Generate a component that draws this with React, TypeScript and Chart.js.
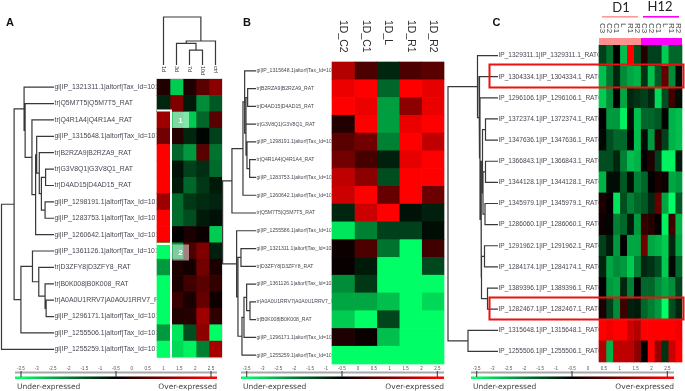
import React, { useEffect, useRef } from "react";
import { Chart, registerables } from "chart.js";

Chart.register(...registerables);

type Tree = number | [number, Tree, Tree];

const keyTicks = [-3.5, -3, -2.5, -2, -1.5, -1, -0.5, 0, 0.5, 1, 1.5, 2, 2.5];

const id = (n: string) => `gi|IP_${n}.1|altorf|Tax_Id=10116`;
const tr = (n: string) => `tr|${n}|${n}_RAT`;
const ip = (n: string) => `IP_${n}.1|IP_${n}.1_RATO`;

const colsA = ["1d", "3d", "7d", "10d", "ctrl"];
const rowsA = [
  id("1321311"), tr("Q5M7T5"), tr("Q4R1A4"), id("1315648"), tr("B2RZA9"), tr("G3V8Q1"),
  tr("D4AD15"), id("1298191"), id("1283753"), id("1260642"), id("1361126"), tr("D3ZFY8"),
  tr("B0K008"), tr("A0A0U1RRV7"), id("1296171"), id("1255506"), id("1255259"),
];
// Expression on the colour key, scaled to -1 (full green) .. 1 (full red)
const valuesA = [
  [0.13, -0.8, 0.12, 0.35, 0.55],
  [-0.15, 0.5, -0.1, -0.55, -0.35],
  [0.62, -0.7, -0.8, -0.4, 0.35],
  [0.45, 0.15, -0.15, -0.02, -0.25],
  [1, -0.4, -0.6, 0.35, -0.45],
  [1, -0.07, -0.25, -0.18, -0.42],
  [1, -0.1, -0.4, -0.22, -0.1],
  [0.62, -0.42, -0.22, -0.17, -0.14],
  [1, -0.42, -0.3, -0.1, -0.07],
  [1, 0, 0.1, 0.04, -0.8],
  [-1, -0.6, 0.3, 0.5, -0.12],
  [-0.6, 0.12, 0.07, 0.45, 0.1],
  [-1, 0.1, 0.25, 0.35, 0.2],
  [-1, 0.22, 0.1, 0.4, 0.06],
  [-1, 0.13, 0.15, 0.62, 0.18],
  [-0.6, -0.9, -0.3, 0.55, -1],
  [-1, -0.85, -0.95, -0.5, 0.65],
];
const treeA: Tree = [1,
  [0.76,
    [0.57, 0, [0.55, 1, [0.42, 2, [0.35, [0.33, 3, [0.28, 4, [0.24, [0.16, 5, 6], [0.17, 7, 8]]]], 9]]]],
    [0.63, [0.41, 10, [0.29, 11, [0.17, 12, [0.15, 13, 14]]]], 15]],
  16];
const colTreeA: Tree = [1, 0, [0.5, [0.45, 1, [0.31, 2, 3]], 4]];

const colsB = ["1D_C2", "1D_C1", "1D_L", "1D_R1", "1D_R2"];
const rowsB = [
  id("1315648"), tr("B2RZA9"), tr("D4AD15"), tr("G3V8Q1"), id("1298191"), tr("Q4R1A4"),
  id("1283753"), id("1260642"), tr("Q5M7T5"), id("1255586"), id("1321311"), tr("D3ZFY8"),
  id("1361126"), tr("A0A0U1RRV7"), tr("B0K008"), id("1296171"), id("1255259"),
];
const valuesB = [
  [0.7, 0.3, -0.15, 0.3, 0.35],
  [0.93, 1, -0.4, 1, 0.9],
  [1, 0.93, -0.62, 0.55, 0.92],
  [0.13, 1, -0.62, 0.92, 1],
  [0.35, 0.45, -0.5, 1, 0.75],
  [0.45, 0.28, -0.12, 0.9, 1],
  [0.75, 0.55, -0.3, 1, 1],
  [0.8, 1, 0.4, 1, 0.42],
  [-0.15, 0.8, 1, -0.07, -0.12],
  [-0.9, -0.5, -0.25, -0.25, -0.05],
  [0.05, 0.3, -0.45, -1, 0.25],
  [0.03, -0.1, -1, -1, -0.28],
  [-0.55, -0.22, -1, -1, -1],
  [-0.65, -0.65, -0.75, -1, -0.85],
  [-0.8, -1, -0.27, -1, -1],
  [0.12, 0.04, -0.75, -1, -1],
  [-1, -1, -1, -1, -1],
];
const treeB: Tree = [1,
  [0.72,
    [0.39, [0.34, 0, [0.3, [0.3, [0.25, 1, 2], 3], [0.27, 4, [0.19, 5, 6]]]], 7],
    8],
  [0.58, 9,
    [0.54, [0.45, 10, 11],
      [0.42, [0.36, [0.28, 12, [0.18, 13, 14]], 15], 16]]]];

const colsC = ["C3", "C2", "C1", "L", "R1", "R2", "C3", "C2", "C1", "L", "R1", "R2"];
const rowsC = [
  "1329311", "1304334", "1296106", "1372374", "1347636", "1366843", "1344128", "1345979",
  "1286060", "1291962", "1284174", "1389396", "1282467", "1315648", "1255506",
].map(ip);
const valuesC = [
  [-0.25, -0.45, 0, -0.75, 1, -0.3, 0.15, -0.25, -0.25, -0.8, -0.4, -0.4],
  [-0.75, -0.45, -0.15, -0.55, -0.65, -0.7, -0.2, -0.75, -0.35, 0.4, -0.55, -0.05],
  [-0.8, -0.55, 0, -0.65, -0.15, -0.2, -0.25, -0.15, -0.85, -0.3, 0.25, -0.05],
  [0, -0.6, -0.6, -0.95, -0.05, -0.75, -0.4, -0.4, -0.35, -0.02, -0.7, -0.75],
  [-0.03, -0.3, -0.4, -0.4, 0, -0.75, -0.05, -0.6, 0.15, -0.25, -0.7, -0.75],
  [-0.3, -0.3, -0.15, -0.5, -0.75, -0.7, 0, 0.12, -0.25, -0.95, -0.95, -0.1],
  [-0.7, -0.05, -0.05, -0.35, -0.05, -0.5, -0.4, 0, 0.1, 0.05, -0.65, -0.6],
  [0.1, 0.02, -0.9, -0.3, -0.5, -0.4, -0.35, -0.15, 0.4, -0.65, -1, -0.35],
  [0.05, -0.02, -0.5, -0.4, -0.1, -0.6, 0.2, 0.15, 0.02, -0.95, 0.25, -0.7],
  [-0.25, -0.1, -0.6, 0, -0.65, -0.65, 0.45, -0.65, -0.7, -0.8, -0.15, -0.65],
  [-0.15, -0.65, -0.55, -0.6, -0.8, -0.5, -0.15, -0.2, -0.3, -0.8, -0.03, -0.4],
  [0, -0.6, -0.65, -0.15, -0.5, 0, -0.4, -0.4, -0.55, -0.65, -0.55, -0.25],
  [0.1, -0.25, -0.55, 0.25, -0.12, -0.1, -0.4, -0.5, -0.6, -1, -0.3, -0.15],
  [1, 0.95, 1, 1, 0.8, 0.7, 1, 1, 1, 1, 1, 0.95],
  [0.7, -0.7, 0.75, 0.75, 0.75, 0.55, 0, 1, 0.6, -0.2, 0.8, 1],
];
const treeC: Tree = [1,
  [0.41, 0, [0.38, 1, [0.36, 2, [0.34,
    [0.31, [0.25, 3, 4], [0.3, [0.25, 5, 6], [0.26, 7, 8]]],
    [0.33, [0.27, 9, 10], [0.21, 11, 12]]]]]],
  [0.6, 13, 14]];

const colour = (v: number) =>
  v >= 0
    ? `rgb(${Math.round(255 * v)},0,0)`
    : `rgb(0,${Math.round(-255 * v)},${Math.round(-102 * v)})`;

const ink = "#4b4552";
const treeInk = "#383838";

function treeSegments(tree: Tree, place: (h: number, pos: number) => { x: number; y: number }) {
  const out: { x: number; y: number }[] = [];
  const walk = (n: Tree): { h: number; pos: number } => {
    if (typeof n === "number") return { h: 0, pos: n };
    const a = walk(n[1]);
    const b = walk(n[2]);
    out.push(place(a.h, a.pos), place(n[0], a.pos), place(n[0], b.pos), place(b.h, b.pos), { x: NaN, y: NaN });
    return { h: n[0], pos: (a.pos + b.pos) / 2 };
  };
  walk(tree);
  return out;
}

interface Panel {
  left: number; width: number;
  heatLeft: number; heatRight: number; heatTop: number; heatBottom: number;
  rootX: number; leafX: number; labelX: number; labelFont: string;
  keyLeft: number; keyRight: number; tickA: number; tickZ: number;
  letter: string; letterX: number;
  rows: string[]; cols: string[]; values: number[][]; tree: Tree;
  colTree?: Tree; colTreeTop?: number; colTreeBottom?: number;
  decorate?: (c: CanvasRenderingContext2D, chart: any) => void;
  colText: (c: CanvasRenderingContext2D, label: string, x: number) => void;
}

const rotated = (c: CanvasRenderingContext2D, text: string, x: number, y: number, font: string, col: string) => {
  c.save();
  c.translate(x, y);
  c.rotate(Math.PI / 2);
  c.font = font;
  c.fillStyle = col;
  c.textAlign = "left";
  c.textBaseline = "middle";
  c.fillText(text, 0, 0);
  c.restore();
};

const panels: Panel[] = [
  {
    left: 0, width: 226, heatLeft: 157, heatRight: 222, heatTop: 79, heatBottom: 357.5,
    rootX: 1.5, leafX: 54, labelX: 54, labelFont: "6.9px 'Liberation Sans'",
    keyLeft: 15, keyRight: 217, tickA: 21, tickZ: 211,
    letter: "A", letterX: 6, rows: rowsA, cols: colsA, values: valuesA, tree: treeA,
    colTree: colTreeA, colTreeTop: 17, colTreeBottom: 65,
    colText: (c, l, x) => rotated(c, l, x, 66, "5.5px 'Liberation Sans'", "#333"),
    decorate: (c) => {
      c.strokeStyle = "#fff";
      c.lineWidth = 2;
      c.beginPath();
      c.moveTo(157, 110.5); c.lineTo(171, 110.5); c.lineTo(171, 358);
      c.moveTo(157, 244); c.lineTo(171, 244);
      c.stroke();
      c.fillStyle = "rgba(255,255,255,0.5)";
      c.fillRect(172.5, 112, 16.5, 16);
      c.fillRect(172.5, 244.5, 16.5, 16);
      c.fillStyle = "#fff";
      c.font = "bold 8px 'Liberation Sans'";
      c.textAlign = "center";
      c.textBaseline = "middle";
      c.fillText("1", 180.5, 120.5);
      c.fillText("2", 180.5, 252.5);
      c.strokeStyle = "#e2e2e2";
      c.lineWidth = 1;
      c.beginPath();
      c.moveTo(171.5, 358); c.lineTo(222.5, 358); c.lineTo(222.5, 78.5); c.lineTo(157, 78.5);
      c.stroke();
    },
  },
  {
    left: 222, width: 225, heatLeft: 332, heatRight: 444, heatTop: 62, heatBottom: 364,
    rootX: 222.6, leafX: 256, labelX: 256, labelFont: "5.15px 'Liberation Sans'",
    keyLeft: 241, keyRight: 444, tickA: 246.7, tickZ: 437.3,
    letter: "B", letterX: 243, rows: rowsB, cols: colsB, values: valuesB, tree: treeB,
    colText: (c, l, x) => rotated(c, l, x, 20, "10.5px 'Liberation Sans'", "#2c2c2c"),
  },
  {
    left: 447, width: 238, heatLeft: 599, heatRight: 682, heatTop: 45, heatBottom: 362,
    rootX: 448, leafX: 498, labelX: 498, labelFont: "6.55px 'Liberation Sans'",
    keyLeft: 471, keyRight: 674, tickA: 476.7, tickZ: 667.3,
    letter: "C", letterX: 492.5, rows: rowsC, cols: colsC, values: valuesC, tree: treeC,
    colText: (c, l, x) => rotated(c, l, x, 23, "8px 'Liberation Sans'", "#444"),
    decorate: (c) => {
      c.strokeStyle = "#ee1111";
      c.lineWidth = 2;
      c.strokeRect(489.5, 64.5, 194, 23);
      c.strokeRect(489.5, 297.5, 194, 22);
      c.fillStyle = "#ff9090";
      c.fillRect(599, 38, 42, 7);
      c.fillStyle = "#ff00ff";
      c.fillRect(641, 38, 41, 7);
      c.fillStyle = "#ff9999";
      c.fillRect(602, 16, 36, 1.6);
      c.fillStyle = "#ff00ff";
      c.fillRect(643, 16, 36, 1.6);
      c.fillStyle = "#222";
      c.font = "13px Lato";
      c.textAlign = "center";
      c.textBaseline = "middle";
      c.fillText("D1", 621, 8);
      c.fillText("H12", 660, 7);
    },
  },
];

function ChartPanel({ p }: { p: Panel }) {
  const ref = useRef<HTMLCanvasElement>(null);
  useEffect(() => {
    const H = 391;
    const colW = (p.heatRight - p.heatLeft) / p.cols.length;
    const rowH = (p.heatBottom - p.heatTop) / p.rows.length;
    const ux = (px: number) => (px - p.heatLeft) / colW;
    const uy = (py: number) => (py - p.heatTop) / rowH - 0.5;

    const bars = p.cols.map((name, c) => ({
      type: "bar" as const,
      label: name,
      indexAxis: "y" as const,
      grouped: false,
      barPercentage: 1,
      categoryPercentage: 1,
      xAxisID: "x",
      yAxisID: "y",
      data: p.rows.map((_, r) => ({ x: [c, c + 1], y: r })),
      backgroundColor: p.values.map((row) => colour(row[c])),
      borderWidth: 0,
    }));
    const line = (data: { x: number; y: number }[]) => ({
      type: "scatter" as const,
      label: "tree",
      showLine: true,
      spanGaps: false,
      pointRadius: 0,
      borderColor: treeInk,
      borderWidth: 1.2,
      xAxisID: "x",
      yAxisID: "y",
      data,
    });
    const datasets: any[] = [
      ...bars,
      line(treeSegments(p.tree, (h, pos) => ({ x: ux(p.leafX - h * (p.leafX - p.rootX)), y: pos }))),
    ];
    if (p.colTree) {
      const top = p.colTreeTop!;
      const bottom = p.colTreeBottom!;
      datasets.push(
        line(treeSegments(p.colTree, (h, pos) => ({ x: pos + 0.5, y: uy(bottom - h * (bottom - top)) })))
      );
    }

    const drawing = {
      id: "panelText",
      beforeDatasetsDraw(chart: any) {
        const c: CanvasRenderingContext2D = chart.ctx;
        const ys = chart.scales.y;
        c.save();
        c.translate(-p.left, 0);
        c.beginPath();
        c.rect(p.left, 0, p.heatLeft - p.left - 0.5, H);
        c.clip();
        c.font = p.labelFont;
        c.fillStyle = ink;
        c.textAlign = "left";
        c.textBaseline = "middle";
        p.rows.forEach((t, i) => c.fillText(t, p.labelX + 0.5, ys.getPixelForValue(i)));
        c.restore();
      },
      afterDatasetsDraw(chart: any) {
        const c: CanvasRenderingContext2D = chart.ctx;
        const xs = chart.scales.x;
        c.save();
        c.translate(-p.left, 0);
        p.cols.forEach((t, i) => p.colText(c, t, xs.getPixelForValue(i + 0.5) + p.left));
        p.decorate && p.decorate(c, chart);

        c.fillStyle = "#111";
        c.font = "bold 11px 'Liberation Sans'";
        c.textAlign = "left";
        c.textBaseline = "alphabetic";
        c.fillText(p.letter, p.letterX, 26);

        // colour key
        const step = (p.tickZ - p.tickA) / (keyTicks.length - 1);
        c.fillStyle = "#a9a9a9";
        c.fillRect(p.keyLeft, 371.5, p.keyRight - p.keyLeft, 2);
        const g = c.createLinearGradient(p.tickA, 0, p.tickZ, 0);
        g.addColorStop(0, "#00ff66");
        g.addColorStop(0.5, "#000000");
        g.addColorStop(1, "#ff0000");
        c.fillStyle = g;
        c.fillRect(p.keyLeft, 376.5, p.keyRight - p.keyLeft, 2.5);
        c.fillStyle = "#333";
        [0, 6, 12].forEach((k) => c.fillRect(p.tickA + k * step - 0.5, 371, 1, 6));
        c.fillStyle = "#555";
        c.font = "4.5px 'Liberation Sans'";
        c.textAlign = "center";
        c.textBaseline = "middle";
        keyTicks.forEach((v, k) => c.fillText(String(v), p.tickA + k * step, 369));
        c.fillStyle = "#444";
        c.font = "7.5px 'DejaVu Sans'";
        c.textBaseline = "alphabetic";
        c.textAlign = "left";
        c.fillText("Under-expressed", p.keyLeft + 2, 389);
        c.textAlign = "right";
        c.fillText("Over-expressed", p.keyRight, 389);
        c.restore();
      },
    };

    const chart = new Chart(ref.current!, {
      type: "bar",
      data: { datasets },
      plugins: [drawing],
      options: {
        animation: false,
        responsive: false,
        events: [],
        layout: { padding: 0 },
        plugins: { legend: { display: false }, tooltip: { enabled: false } },
        scales: {
          x: {
            type: "linear",
            display: false,
            offset: false,
            min: ux(p.left),
            max: ux(p.left + p.width),
            grid: { display: false },
          },
          y: {
            type: "linear",
            display: false,
            offset: false,
            reverse: true,
            min: uy(0),
            max: uy(H),
            grid: { display: false },
            afterBuildTicks: (s: any) => {
              s.ticks = p.rows.map((_, i) => ({ value: i }));
            },
          },
        },
      } as any,
    } as any);
    return () => chart.destroy();
  }, [p]);
  return (
    <canvas
      ref={ref}
      width={p.width}
      height={391}
      style={{ position: "absolute", left: p.left, top: 0, width: p.width, height: 391, filter: "blur(0.4px)" }}
    />
  );
}

export default function App() {
  return (
    <div style={{ position: "absolute", left: 0, top: 0, width: 685, height: 391, background: "#fff", overflow: "hidden" }}>
      {panels.map((p) => (
        <ChartPanel key={p.letter} p={p} />
      ))}
    </div>
  );
}
